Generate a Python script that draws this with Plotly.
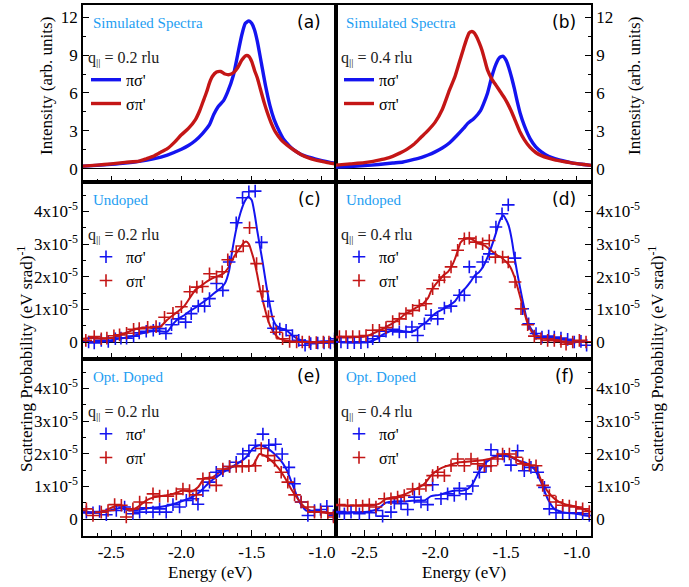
import plotly.graph_objects as go

# ======================= DATA =======================
ENERGY_RANGE = [-2.7, -0.9]
x_tick_vals = [-2.5, -2.0, -1.5, -1.0]
x_tick_text = ["-2.5", "-2.0", "-1.5", "-1.0"]
sim_tick_vals = [0, 3, 6, 9, 12]
sim_tick_text = ["0", "3", "6", "9", "12"]
SCALE = 1e-5  # experimental values below are in units of 1e-5 (eV srad)^-1
exp_tick_vals = [0, 1e-5, 2e-5, 3e-5, 4e-5]
exp_tick_text = ["0", "1x10<sup>-5</sup>", "2x10<sup>-5</sup>", "3x10<sup>-5</sup>", "4x10<sup>-5</sup>"]

series_names = ["πσ'", "σπ'"]
panel_labels = ["(a)", "(b)", "(c)", "(d)", "(e)", "(f)"]
row_titles = ["Simulated Spectra", "Undoped", "Opt. Doped"]
q_values = ["0.2", "0.4"]

# ---- (a) simulated, q = 0.2
a_ps_x = [-2.70, -2.60, -2.50, -2.40, -2.30, -2.20, -2.10, -2.00, -1.95, -1.90, -1.85, -1.80, -1.77, -1.74,
          -1.70, -1.67, -1.63, -1.60, -1.57, -1.545, -1.52, -1.50, -1.48, -1.46, -1.43, -1.40, -1.37, -1.34,
          -1.30, -1.27, -1.23, -1.20, -1.15, -1.10, -1.05, -1.00, -0.95, -0.90]
a_ps_y = [0.22, 0.28, 0.36, 0.46, 0.60, 0.80, 1.10, 1.55, 1.85, 2.25, 2.8, 3.5, 4.3, 4.9,
          5.4, 6.1, 7.4, 9.0, 10.6, 11.5, 11.7, 11.5, 11.0, 10.1, 8.3, 6.5, 5.0, 3.9,
          2.9, 2.3, 1.8, 1.5, 1.15, 0.95, 0.8, 0.66, 0.54, 0.45]
a_sp_x = [-2.70, -2.60, -2.50, -2.40, -2.30, -2.25, -2.20, -2.15, -2.10, -2.05, -2.00, -1.95, -1.90, -1.87,
          -1.84, -1.82, -1.80, -1.78, -1.75, -1.72, -1.69, -1.66, -1.63, -1.60, -1.57, -1.54, -1.52, -1.50,
          -1.48, -1.46, -1.44, -1.41, -1.39, -1.36, -1.33, -1.29, -1.25, -1.20, -1.15, -1.10, -1.05, -1.00,
          -0.95, -0.90]
a_sp_y = [0.22, 0.30, 0.40, 0.52, 0.62, 0.80, 1.0, 1.3, 1.6, 2.1, 2.7, 3.2, 3.9, 4.6,
          5.5, 6.1, 6.8, 7.3, 7.65, 7.7, 7.5, 7.45, 7.6, 8.0, 8.6, 8.95, 8.9, 8.5,
          7.8, 7.2, 6.4, 5.2, 4.5, 3.6, 2.9, 2.3, 1.9, 1.5, 1.15, 0.9, 0.72, 0.6,
          0.48, 0.38]

# ---- (b) simulated, q = 0.4
b_ps_x = [-2.70, -2.60, -2.50, -2.40, -2.30, -2.226, -2.15, -2.10, -2.05, -2.00, -1.95, -1.90, -1.85, -1.80,
          -1.77, -1.73, -1.70, -1.68, -1.66, -1.63, -1.60, -1.57, -1.545, -1.52, -1.50, -1.48, -1.46, -1.44,
          -1.42, -1.40, -1.37, -1.33, -1.29, -1.25, -1.20, -1.15, -1.10, -1.05, -1.00, -0.95, -0.90]
b_ps_y = [0.15, 0.20, 0.26, 0.35, 0.47, 0.55, 0.75, 0.9, 1.1, 1.35, 1.65, 2.05, 2.6, 3.2,
          3.6, 3.95, 4.3, 4.6, 5.1, 6.0, 7.3, 8.3, 8.8, 8.9, 8.6, 8.0, 7.2, 6.3,
          5.3, 4.4, 3.4, 2.4, 1.75, 1.35, 1.0, 0.8, 0.65, 0.52, 0.42, 0.35, 0.28]
b_sp_x = [-2.70, -2.60, -2.50, -2.45, -2.40, -2.35, -2.30, -2.25, -2.20, -2.15, -2.10, -2.05, -2.00, -1.95,
          -1.90, -1.86, -1.83, -1.80, -1.78, -1.76, -1.745, -1.73, -1.71, -1.69, -1.67, -1.65, -1.63, -1.60,
          -1.57, -1.54, -1.51, -1.49, -1.46, -1.43, -1.40, -1.37, -1.33, -1.29, -1.25, -1.20, -1.15, -1.10,
          -1.05, -1.00, -0.95, -0.90]
b_sp_y = [0.30, 0.40, 0.50, 0.58, 0.70, 0.82, 1.0, 1.25, 1.55, 1.95, 2.5, 3.05, 3.7, 4.7,
          6.2, 7.3, 8.4, 9.5, 10.2, 10.75, 10.85, 10.8, 10.5, 10.0, 9.4, 8.6, 7.8, 7.1,
          6.6, 6.1, 5.6, 5.2, 4.5, 3.7, 2.9, 2.3, 1.7, 1.3, 1.05, 0.85, 0.7, 0.6,
          0.5, 0.42, 0.35, 0.28]

# ---- (c) undoped, q = 0.2 (units 1e-5)
c_ps_fit_x = [-2.70, -2.60, -2.55, -2.50, -2.45, -2.40, -2.35, -2.30, -2.25, -2.20, -2.15, -2.10, -2.06, -2.02,
              -1.98, -1.94, -1.90, -1.86, -1.82, -1.78, -1.75, -1.72, -1.69, -1.66, -1.64, -1.61, -1.58, -1.55,
              -1.525, -1.50, -1.48, -1.46, -1.44, -1.42, -1.40, -1.38, -1.35, -1.32, -1.29, -1.25, -1.21, -1.16,
              -1.10, -1.05, -1.00, -0.95, -0.90]
c_ps_fit_y = [0.0, 0.0, 0.02, 0.05, 0.10, 0.13, 0.18, 0.24, 0.30, 0.34, 0.33, 0.32, 0.55, 0.72,
              0.82, 0.95, 1.05, 1.18, 1.30, 1.45, 1.55, 1.65, 1.80, 2.2, 2.75, 3.45, 3.95, 4.3,
              4.45, 4.35, 3.95, 3.4, 2.9, 2.4, 1.85, 1.35, 0.72, 0.48, 0.42, 0.35, 0.2, 0.07,
              0.02, 0.0, 0.02, 0.03, 0.05]
c_sp_fit_x = [-2.70, -2.65, -2.60, -2.55, -2.50, -2.45, -2.40, -2.35, -2.30, -2.25, -2.20, -2.15, -2.10, -2.06,
              -2.02, -1.98, -1.94, -1.90, -1.86, -1.82, -1.78, -1.74, -1.70, -1.67, -1.64, -1.61, -1.58, -1.56,
              -1.54, -1.52, -1.50, -1.48, -1.46, -1.44, -1.42, -1.40, -1.38, -1.36, -1.33, -1.30, -1.26, -1.22,
              -1.15, -1.05, -0.95, -0.90]
c_sp_fit_y = [0.10, 0.12, 0.12, 0.11, 0.12, 0.18, 0.27, 0.36, 0.42, 0.44, 0.43, 0.47, 0.68, 0.82,
              0.95, 1.10, 1.35, 1.60, 1.72, 1.85, 1.95, 2.02, 2.10, 2.25, 2.5, 2.72, 2.9, 3.02,
              3.08, 3.0, 2.75, 2.45, 2.05, 1.6, 1.25, 0.92, 0.62, 0.42, 0.22, 0.10, 0.05, 0.02,
              0.0, 0.0, 0.0, 0.0]
c_ps_x = [-2.66, -2.62, -2.57, -2.52, -2.47, -2.43, -2.39, -2.34, -2.30, -2.25, -2.20, -2.155, -2.11, -2.07,
          -2.02, -1.97, -1.93, -1.88, -1.835, -1.80, -1.75, -1.705, -1.66, -1.61, -1.565, -1.52, -1.475, -1.43,
          -1.385, -1.345, -1.30, -1.255, -1.21, -1.165, -1.12, -1.08, -1.03, -0.985, -0.94, -0.91]
c_ps_y = [0.0, -0.03, 0.05, 0.02, 0.10, 0.12, 0.12, 0.18, 0.28, 0.33, 0.36, 0.41, 0.26, 0.53,
          0.71, 0.61, 0.87, 1.10, 1.10, 1.33, 1.79, 1.58, 2.45, 3.65, 4.42, 4.60, 4.62, 3.05,
          1.25, 0.42, 0.40, 0.36, 0.20, 0.05, -0.10, -0.05, -0.03, -0.03, -0.03, 0.10]
c_sp_x = [-2.68, -2.62, -2.57, -2.53, -2.48, -2.44, -2.39, -2.34, -2.30, -2.24, -2.18, -2.12, -2.06, -2.00,
          -1.94, -1.89, -1.85, -1.80, -1.75, -1.71, -1.67, -1.61, -1.56, -1.515, -1.465, -1.42, -1.38, -1.325,
          -1.28, -1.23, -1.18, -1.14, -1.09, -1.04, -0.99, -0.95, -0.91]
c_sp_y = [0.05, 0.17, 0.10, 0.12, 0.19, 0.22, 0.27, 0.39, 0.41, 0.45, 0.47, 0.76, 0.88, 1.08,
          1.54, 1.68, 1.70, 2.09, 2.0, 2.15, 2.52, 2.77, 2.94, 3.50, 2.40, 1.55, 0.78, 0.30,
          0.10, 0.02, 0.0, 0.0, 0.0, -0.02, 0.0, 0.0, 0.02]

# ---- (d) undoped, q = 0.4
d_ps_fit_x = [-2.70, -2.60, -2.50, -2.46, -2.42, -2.39, -2.35, -2.32, -2.27, -2.22, -2.18, -2.14, -2.10, -2.06,
              -2.02, -1.98, -1.94, -1.90, -1.86, -1.82, -1.78, -1.75, -1.72, -1.69, -1.66, -1.63, -1.60, -1.57,
              -1.545, -1.52, -1.50, -1.48, -1.46, -1.44, -1.42, -1.40, -1.38, -1.35, -1.32, -1.29, -1.25, -1.20,
              -1.15, -1.10, -1.05, -1.00, -0.95, -0.90]
d_ps_fit_y = [0.0, 0.0, 0.0, 0.02, 0.08, 0.17, 0.27, 0.33, 0.36, 0.33, 0.31, 0.36, 0.50, 0.62,
              0.80, 0.93, 1.02, 1.12, 1.25, 1.50, 1.68, 1.85, 2.04, 2.14, 2.32, 2.6, 2.95, 3.35,
              3.7, 3.88, 3.75, 3.55, 3.15, 2.6, 2.1, 1.65, 1.22, 0.65, 0.38, 0.24, 0.13, 0.10,
              0.10, 0.08, 0.05, 0.03, 0.0, 0.0]
d_sp_fit_x = [-2.70, -2.60, -2.55, -2.50, -2.46, -2.42, -2.38, -2.35, -2.31, -2.28, -2.24, -2.21, -2.17, -2.14,
              -2.10, -2.08, -2.05, -2.03, -2.00, -1.97, -1.94, -1.91, -1.88, -1.86, -1.84, -1.82, -1.79, -1.76,
              -1.73, -1.71, -1.68, -1.65, -1.62, -1.59, -1.56, -1.535, -1.51, -1.49, -1.47, -1.44, -1.42, -1.39,
              -1.37, -1.35, -1.32, -1.30, -1.27, -1.24, -1.20, -1.17, -1.13, -1.10, -1.07, -1.03, -1.00, -0.95,
              -0.90]
d_sp_fit_y = [0.14, 0.14, 0.15, 0.17, 0.22, 0.30, 0.38, 0.45, 0.55, 0.63, 0.75, 0.87, 0.95, 1.04,
              1.12, 1.20, 1.35, 1.55, 1.75, 1.90, 2.05, 2.15, 2.35, 2.55, 2.8, 3.05, 3.15, 3.18,
              3.12, 3.06, 3.0, 2.95, 2.85, 2.75, 2.65, 2.6, 2.5, 2.42, 2.3, 1.99, 1.7, 1.22,
              0.9, 0.6, 0.32, 0.2, 0.14, 0.12, 0.10, 0.09, 0.05, 0.0, -0.05, -0.02, 0.0, 0.0,
              0.0]
d_ps_x = [-2.665, -2.618, -2.571, -2.524, -2.476, -2.441, -2.394, -2.347, -2.30, -2.253, -2.206, -2.164, -2.124,
          -2.076, -2.029, -1.982, -1.935, -1.888, -1.829, -1.794, -1.759, -1.712, -1.665, -1.618, -1.571, -1.528,
          -1.484, -1.436, -1.382, -1.34, -1.288, -1.246, -1.199, -1.159, -1.112, -1.065, -1.018, -0.971, -0.931]
d_ps_y = [0.0, -0.02, -0.02, -0.02, 0.0, 0.10, 0.18, 0.33, 0.39, 0.31, 0.31, 0.46, 0.20,
          0.56, 0.82, 0.71, 1.04, 1.10, 1.43, 1.43, 2.30, 1.99, 2.45, 2.70, 3.52, 3.93,
          4.20, 2.57, 1.02, 0.56, 0.26, 0.15, 0.18, 0.15, 0.12, 0.08, 0.0, 0.02, -0.10]
d_sp_x = [-2.676, -2.629, -2.582, -2.535, -2.488, -2.441, -2.394, -2.347, -2.30, -2.253, -2.206, -2.159, -2.112,
          -2.065, -2.018, -1.971, -1.935, -1.888, -1.841, -1.794, -1.759, -1.712, -1.665, -1.618, -1.575, -1.524,
          -1.484, -1.436, -1.394, -1.347, -1.30, -1.253, -1.206, -1.159, -1.112, -1.076, -1.029, -0.982, -0.935]
d_sp_y = [0.17, 0.17, 0.17, 0.17, 0.20, 0.36, 0.36, 0.44, 0.63, 0.71, 0.87, 0.97, 1.12,
          1.17, 1.63, 1.89, 1.99, 2.30, 2.81, 3.16, 3.18, 3.06, 3.01, 3.11, 2.60, 2.60,
          2.45, 1.84, 1.02, 0.53, 0.18, 0.10, 0.05, 0.05, 0.02, -0.07, 0.0, 0.05, 0.0]

# ---- (e) optimally doped, q = 0.2
e_ps_fit_x = [-2.70, -2.605, -2.51, -2.439, -2.368, -2.297, -2.226, -2.155, -2.084, -2.013, -1.942, -1.871, -1.80,
              -1.752, -1.705, -1.645, -1.586, -1.539, -1.491, -1.444, -1.397, -1.349, -1.302, -1.254, -1.207,
              -1.16, -1.112, -1.041, -0.97, -0.90]
e_ps_fit_y = [0.19, 0.19, 0.26, 0.34, 0.26, 0.29, 0.34, 0.37, 0.42, 0.52, 0.64, 0.82, 1.13,
              1.28, 1.43, 1.58, 1.74, 1.89, 2.16, 2.26, 2.19, 2.04, 1.84, 1.53, 1.03,
              0.52, 0.26, 0.23, 0.21, 0.11]
e_sp_fit_x = [-2.70, -2.629, -2.558, -2.487, -2.427, -2.368, -2.309, -2.25, -2.19, -2.12, -2.06, -1.989, -1.93,
              -1.882, -1.835, -1.776, -1.717, -1.657, -1.598, -1.539, -1.491, -1.444, -1.408, -1.361, -1.314,
              -1.266, -1.219, -1.172, -1.124, -1.065, -0.994, -0.90]
e_sp_fit_y = [0.26, 0.19, 0.23, 0.37, 0.42, 0.26, 0.37, 0.57, 0.67, 0.72, 0.77, 0.87, 0.84,
              0.97, 1.25, 1.28, 1.48, 1.58, 1.63, 1.61, 1.65, 1.99, 1.94, 1.79, 1.58,
              1.28, 0.92, 0.62, 0.37, 0.23, 0.21, 0.11]
e_ps_x = [-2.676, -2.629, -2.582, -2.534, -2.463, -2.404, -2.345, -2.297, -2.25, -2.202, -2.155, -2.108, -2.06,
          -2.013, -1.965, -1.918, -1.882, -1.847, -1.80, -1.752, -1.705, -1.657, -1.61, -1.563, -1.52, -1.473,
          -1.42, -1.378, -1.33, -1.283, -1.235, -1.195, -1.148, -1.10, -1.053, -1.01, -0.965, -0.918]
e_ps_y = [0.21, 0.19, 0.23, 0.13, 0.26, 0.37, 0.16, 0.21, 0.34, 0.21, 0.31, 0.21, 0.44,
          0.37, 0.57, 0.62, 0.45, 0.87, 1.13, 1.43, 1.48, 1.61, 1.74, 1.99, 2.09, 2.26,
          2.60, 2.26, 2.29, 1.99, 1.58, 1.08, 0.52, 0.11, 0.26, 0.29, 0.39, 0.11]
e_sp_x = [-2.676, -2.629, -2.57, -2.522, -2.475, -2.427, -2.392, -2.345, -2.297, -2.25, -2.202, -2.155, -2.096,
          -2.036, -1.989, -1.942, -1.894, -1.847, -1.80, -1.752, -1.705, -1.657, -1.61, -1.567, -1.52, -1.473,
          -1.432, -1.385, -1.337, -1.29, -1.243, -1.195, -1.148, -1.10, -1.053, -1.006, -0.958, -0.918]
e_sp_y = [0.31, 0.11, 0.21, 0.26, 0.44, 0.42, 0.06, 0.31, 0.52, 0.50, 0.77, 0.70, 0.70,
          0.77, 0.92, 0.87, 0.74, 1.23, 1.25, 1.03, 1.53, 1.61, 1.61, 1.61, 1.63, 1.63,
          2.16, 1.94, 1.79, 1.43, 1.13, 0.74, 0.52, 0.37, 0.21, 0.21, 0.19, 0.06]

# ---- (f) optimally doped, q = 0.4
f_ps_fit_x = [-2.70, -2.629, -2.535, -2.465, -2.406, -2.347, -2.288, -2.206, -2.124, -2.076, -2.029, -1.971,
              -1.912, -1.853, -1.806, -1.771, -1.735, -1.70, -1.653, -1.606, -1.559, -1.512, -1.465, -1.418,
              -1.359, -1.30, -1.253, -1.206, -1.159, -1.10, -1.006, -0.912]
f_ps_fit_y = [0.21, 0.19, 0.21, 0.23, 0.31, 0.50, 0.54, 0.54, 0.57, 0.57, 0.70, 0.74,
              0.82, 0.87, 0.87, 0.92, 1.08, 1.38, 1.69, 1.84, 1.94, 1.94, 1.89, 1.79,
              1.72, 1.53, 1.13, 0.62, 0.31, 0.21, 0.16, 0.09]
f_sp_fit_x = [-2.70, -2.606, -2.512, -2.441, -2.394, -2.347, -2.276, -2.206, -2.135, -2.076, -2.029, -1.971,
              -1.90, -1.829, -1.759, -1.688, -1.618, -1.547, -1.50, -1.453, -1.394, -1.335, -1.288, -1.241,
              -1.182, -1.124, -1.053, -0.982, -0.912]
f_sp_fit_y = [0.42, 0.40, 0.42, 0.42, 0.47, 0.62, 0.67, 0.77, 0.92, 1.08, 1.33, 1.53,
              1.65, 1.74, 1.76, 1.79, 1.84, 1.94, 1.99, 1.89, 1.74, 1.63, 1.53, 1.08,
              0.72, 0.52, 0.42, 0.35, 0.23]
f_ps_x = [-2.676, -2.641, -2.594, -2.535, -2.465, -2.418, -2.371, -2.312, -2.288, -2.241, -2.194, -2.147, -2.10,
          -2.053, -2.018, -1.959, -1.912, -1.865, -1.829, -1.782, -1.735, -1.688, -1.641, -1.606, -1.559, -1.512,
          -1.465, -1.418, -1.371, -1.324, -1.276, -1.229, -1.194, -1.147, -1.10, -1.053, -1.006, -0.959, -0.912]
f_ps_y = [0.23, 0.16, 0.21, 0.16, 0.19, 0.26, 0.09, 0.21, 0.49, 0.47, 0.29, 0.67, 0.52,
          0.44, 1.05, 0.62, 0.77, 0.72, 0.94, 0.77, 1.01, 1.43, 1.61, 2.12, 1.94, 1.92,
          1.65, 2.09, 1.48, 1.58, 1.43, 0.97, 0.31, 0.19, 0.19, 0.19, 0.19, 0.16, 0.11]
f_sp_x = [-2.676, -2.618, -2.559, -2.512, -2.465, -2.418, -2.359, -2.312, -2.265, -2.218, -2.159, -2.112, -2.065,
          -2.018, -1.982, -1.935, -1.888, -1.841, -1.794, -1.747, -1.70, -1.653, -1.606, -1.559, -1.524, -1.476,
          -1.429, -1.382, -1.335, -1.288, -1.241, -1.194, -1.147, -1.10, -1.053, -1.006, -0.959, -0.912]
f_sp_y = [0.44, 0.42, 0.42, 0.40, 0.44, 0.37, 0.62, 0.62, 0.67, 0.72, 0.92, 0.92, 1.03,
          1.33, 1.43, 1.33, 1.63, 1.84, 1.63, 1.84, 1.69, 1.63, 1.63, 1.84, 1.99, 1.99,
          1.89, 1.69, 1.65, 1.63, 1.03, 0.72, 0.52, 0.42, 0.40, 0.37, 0.31, 0.23]

# ======================= STYLE / LAYOUT =======================
W, H = 689, 587
BLUE = "#1414F0"
RED = "#C41616"
LIGHTBLUE = "#1E9EF2"
SERIF = "Times New Roman"
SANS = "DejaVu Sans"

def fx(p):
    return p / W

def fy(p):
    return 1 - p / H

COLS = [(83, 336), (336, 591)]
ROWS = [(5, 182), (182, 359), (359, 536)]

fig = go.Figure()

sim = {0: [(a_ps_x, a_ps_y), (a_sp_x, a_sp_y)], 1: [(b_ps_x, b_ps_y), (b_sp_x, b_sp_y)]}
exp_fit = {
    2: [(c_ps_fit_x, c_ps_fit_y), (c_sp_fit_x, c_sp_fit_y)],
    3: [(d_ps_fit_x, d_ps_fit_y), (d_sp_fit_x, d_sp_fit_y)],
    4: [(e_ps_fit_x, e_ps_fit_y), (e_sp_fit_x, e_sp_fit_y)],
    5: [(f_ps_fit_x, f_ps_fit_y), (f_sp_fit_x, f_sp_fit_y)],
}
exp_pts = {
    2: [(c_ps_x, c_ps_y), (c_sp_x, c_sp_y)],
    3: [(d_ps_x, d_ps_y), (d_sp_x, d_sp_y)],
    4: [(e_ps_x, e_ps_y), (e_sp_x, e_sp_y)],
    5: [(f_ps_x, f_ps_y), (f_sp_x, f_sp_y)],
}
colors = [BLUE, RED]

def axname(k, letter):
    return letter if k == 0 else f"{letter}{k + 1}"

def legname(k):
    return "legend" if k == 0 else f"legend{k + 1}"

# traces
for k in range(6):
    xa, ya = axname(k, "x"), axname(k, "y")
    if k < 2:
        for s, (xs, ys) in enumerate(sim[k]):
            fig.add_trace(go.Scatter(x=xs, y=ys, mode="lines", name=series_names[s],
                                     line=dict(color=colors[s], width=3.4, shape="spline", smoothing=0.6),
                                     xaxis=xa, yaxis=ya, legend=legname(k), showlegend=True))
    else:
        for s, (xs, ys) in enumerate(exp_fit[k]):
            fig.add_trace(go.Scatter(x=xs, y=[v * SCALE for v in ys], mode="lines",
                                     line=dict(color=colors[s], width=2, shape="spline", smoothing=0.6),
                                     xaxis=xa, yaxis=ya, showlegend=False, hoverinfo="skip"))
        for s, (xs, ys) in enumerate(exp_pts[k]):
            fig.add_trace(go.Scatter(x=xs, y=[v * SCALE for v in ys], mode="markers", name=series_names[s],
                                     marker=dict(symbol="cross-thin", size=9, color=colors[s],
                                                 line=dict(color=colors[s], width=1.6)),
                                     xaxis=xa, yaxis=ya, legend=legname(k), showlegend=True))

layout = dict(width=W, height=H, margin=dict(l=0, r=0, t=0, b=0),
              paper_bgcolor="white", plot_bgcolor="white", showlegend=True)

axis_common = dict(showline=True, mirror=True, linecolor="black", linewidth=1.5,
                   showgrid=False, ticks="inside", tickcolor="black", tickwidth=1.2,
                   tickfont=dict(family=SERIF, size=17, color="black"))

annotations = []
for k in range(6):
    r, c = divmod(k, 2)
    x0, x1 = COLS[c]
    y0, y1 = ROWS[r]
    xa_key = "xaxis" if k == 0 else f"xaxis{k + 1}"
    ya_key = "yaxis" if k == 0 else f"yaxis{k + 1}"
    layout[xa_key] = dict(axis_common, domain=[fx(x0), fx(x1)], anchor=axname(k, "y"),
                          range=ENERGY_RANGE, tickvals=x_tick_vals, ticktext=x_tick_text,
                          ticklen=6, showticklabels=(r == 2), zeroline=False,
                          minor=dict(ticks="inside", ticklen=3, dtick=0.1, tick0=0,
                                     tickcolor="black", tickwidth=1))
    if r == 0:
        yrange = [-1.03, 12.95]
        tv, tt, mdt = sim_tick_vals, sim_tick_text, 1.5
    else:
        yrange = [-0.52 * SCALE, 4.9 * SCALE]
        tv, tt, mdt = exp_tick_vals, exp_tick_text, 0.5 * SCALE
    layout[ya_key] = dict(axis_common, domain=[fy(y1), fy(y0)], anchor=axname(k, "x"),
                          side="left" if c == 0 else "right",
                          range=yrange, tickvals=tv, ticktext=tt, ticklen=6,
                          zeroline=True, zerolinecolor="black", zerolinewidth=1.4,
                          minor=dict(ticks="inside", ticklen=3, dtick=mdt, tick0=0,
                                     tickcolor="black", tickwidth=1))
    # legend per panel
    lx = (86 if c == 0 else 339)
    ly_top = [42, 219, 396][r]
    layout[legname(k)] = dict(x=fx(lx), y=fy(ly_top), xanchor="left", yanchor="top",
                              bgcolor="rgba(0,0,0,0)", borderwidth=0, tracegroupgap=0,
                              itemwidth=30, traceorder="normal",
                              font=dict(family=SERIF, size=16, color="black"),
                              title=dict(text=f"q<sub>||</sub> = {q_values[c]} rlu",
                                         font=dict(family=SERIF, size=16, color="#222")))
    # row title (light blue)
    annotations.append(dict(xref="paper", yref="paper", x=fx(x0 + 8), y=fy(y0 + 18),
                            xanchor="left", yanchor="middle", showarrow=False,
                            text=row_titles[r], font=dict(family=SERIF, size=15, color=LIGHTBLUE)))
    # panel label
    annotations.append(dict(xref="paper", yref="paper", x=fx(x1 - 27), y=fy(y0 + 17),
                            xanchor="center", yanchor="middle", showarrow=False,
                            text=panel_labels[k], font=dict(family=SANS, size=17, color="black")))

# axis titles
annotations += [
    dict(xref="paper", yref="paper", x=fx(46), y=fy(86), textangle=-90, showarrow=False,
         xanchor="center", yanchor="middle", text="Intensity (arb. units)",
         font=dict(family=SERIF, size=17, color="black")),
    dict(xref="paper", yref="paper", x=fx(634), y=fy(86), textangle=-90, showarrow=False,
         xanchor="center", yanchor="middle", text="Intensity (arb. units)",
         font=dict(family=SERIF, size=17, color="black")),
    dict(xref="paper", yref="paper", x=fx(25), y=fy(359), textangle=-90, showarrow=False,
         xanchor="center", yanchor="middle", text="Scattering Probability (eV srad)<sup>-1</sup>",
         font=dict(family=SERIF, size=17, color="black")),
    dict(xref="paper", yref="paper", x=fx(656), y=fy(359), textangle=-90, showarrow=False,
         xanchor="center", yanchor="middle", text="Scattering Probability (eV srad)<sup>-1</sup>",
         font=dict(family=SERIF, size=17, color="black")),
    dict(xref="paper", yref="paper", x=fx(210), y=fy(572), showarrow=False,
         xanchor="center", yanchor="middle", text="Energy (eV)",
         font=dict(family=SERIF, size=17, color="black")),
    dict(xref="paper", yref="paper", x=fx(464), y=fy(572), showarrow=False,
         xanchor="center", yanchor="middle", text="Energy (eV)",
         font=dict(family=SERIF, size=17, color="black")),
]
layout["annotations"] = annotations

fig.update_layout(**layout)
fig.write_html("out.html")
